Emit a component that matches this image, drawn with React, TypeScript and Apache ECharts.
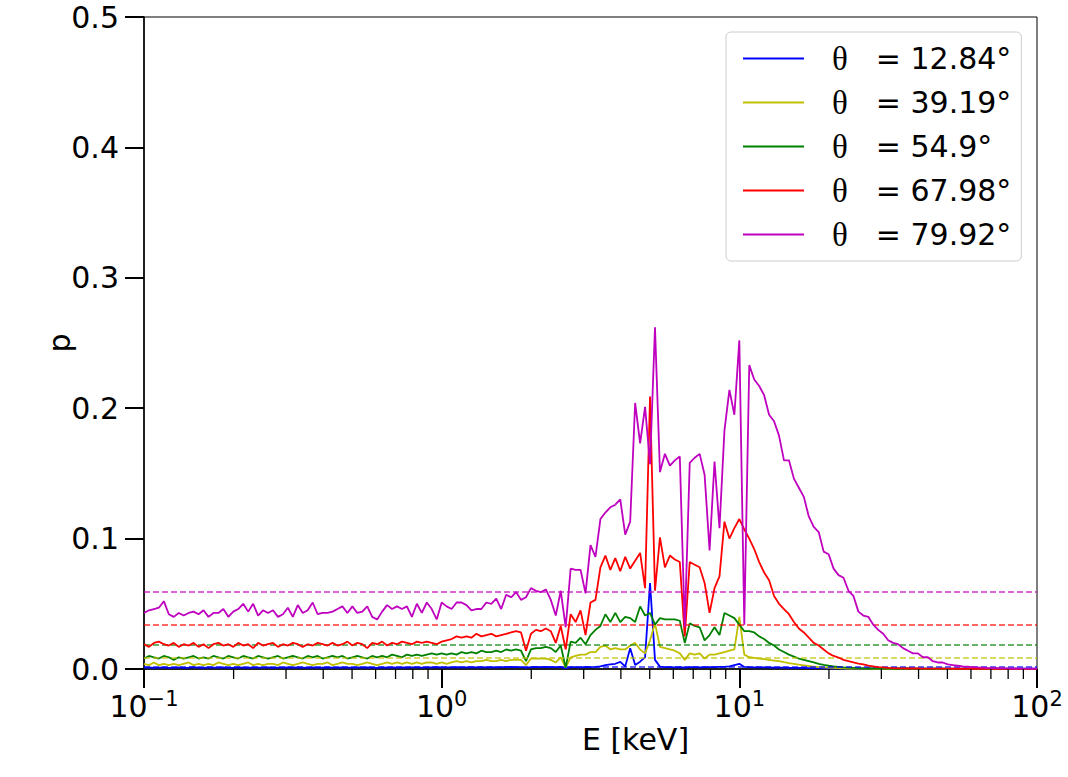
import React, { useEffect, useRef } from 'react';
import * as echarts from 'echarts';

// Energy grid (keV): 181 log-spaced sample energies from 0.1 to 100 keV (60 per decade)
const ENERGY_KEV: number[] = Array.from({ length: 181 }, (_, i) => +(0.1 * Math.pow(10, i / 60)).toPrecision(6));

const SERIES_NAMES = ['12.84', '39.19', '54.9', '67.98', '79.92'];
const SERIES_COLORS = ['#0000ff', '#bfbf00', '#008000', '#ff0000', '#bf00bf'];
// mean polarisation levels (dashed lines)
const MEAN_LEVELS = [0.0015, 0.0084, 0.0186, 0.0337, 0.059];

const X_MINOR_TICKS = [0.2, 0.3, 0.4, 0.5, 0.6, 0.7, 0.8, 0.9, 2, 3, 4, 5, 6, 7, 8, 9, 20, 30, 40, 50, 60, 70, 80, 90];
const Y_TICKS = [0, 0.1, 0.2, 0.3, 0.4, 0.5];

const P_12_84 = [
  0.0010, 0.0012, 0.0008, 0.0011, 0.0013, 0.0009, 0.0010, 0.0012, 0.0009, 0.0011,
  0.0014, 0.0010, 0.0009, 0.0012, 0.0010, 0.0011, 0.0013, 0.0009, 0.0010, 0.0012,
  0.0011, 0.0009, 0.0013, 0.0010, 0.0011, 0.0012, 0.0009, 0.0011, 0.0010, 0.0013,
  0.0010, 0.0012, 0.0011, 0.0009, 0.0012, 0.0010, 0.0011, 0.0013, 0.0010, 0.0011,
  0.0012, 0.0010, 0.0011, 0.0013, 0.0010, 0.0012, 0.0011, 0.0009, 0.0012, 0.0011,
  0.0013, 0.0011, 0.0012, 0.0010, 0.0013, 0.0012, 0.0011, 0.0013, 0.0012, 0.0014,
  0.0012, 0.0013, 0.0012, 0.0014, 0.0013, 0.0012, 0.0014, 0.0013, 0.0015, 0.0013,
  0.0014, 0.0013, 0.0015, 0.0014, 0.0016, 0.0014, 0.0015, 0.0010, 0.0015, 0.0016,
  0.0015, 0.0016, 0.0015, 0.0014, 0.0016, 0.0005, 0.0014, 0.0015, 0.0013, 0.0016,
  0.0015, 0.0017, 0.0020, 0.0030, 0.0035, 0.0040, 0.0055, 0.0020, 0.0160, 0.0030,
  0.0056, 0.0090, 0.0660, 0.0070, 0.0018, 0.0014, 0.0015, 0.0013, 0.0014, 0.0010,
  0.0014, 0.0015, 0.0013, 0.0014, 0.0015, 0.0014, 0.0016, 0.0017, 0.0020, 0.0030,
  0.0040, 0.0016, 0.0014, 0.0013, 0.0013, 0.0012, 0.0012, 0.0011, 0.0010, 0.0010,
  0.0009, 0.0009, 0.0008, 0.0008, 0.0007, 0.0007, 0.0006, 0.0006, 0.0005, 0.0005,
  0.0005, 0.0004, 0.0004, 0.0004, 0.0004, 0.0004, 0.0004, 0.0004, 0.0004, 0.0004,
  0.0004, 0.0004, 0.0004, 0.0004, 0.0004, 0.0003, 0.0003, 0.0003, 0.0003, 0.0003,
  0.0003, 0.0003, 0.0003, 0.0003, 0.0003, 0.0003, 0.0003, 0.0003, 0.0003, 0.0003,
  0.0003, 0.0003, 0.0003, 0.0003, 0.0003, 0.0002, 0.0002, 0.0002, 0.0002, 0.0002, 0.0002,
];

const P_39_19 = [
  0.004, 0.003, 0.005, 0.003, 0.004, 0.003, 0.004, 0.003, 0.004, 0.005,
  0.003, 0.004, 0.003, 0.004, 0.003, 0.005, 0.004, 0.003, 0.004, 0.003,
  0.004, 0.005, 0.003, 0.004, 0.003, 0.004, 0.004, 0.003, 0.005, 0.004,
  0.003, 0.004, 0.005, 0.004, 0.003, 0.004, 0.004, 0.005, 0.003, 0.004,
  0.005, 0.004, 0.004, 0.003, 0.004, 0.005, 0.004, 0.003, 0.004, 0.005,
  0.004, 0.005, 0.004, 0.005, 0.004, 0.005, 0.004, 0.005, 0.005, 0.004,
  0.005, 0.004, 0.005, 0.006, 0.005, 0.006, 0.005, 0.006, 0.006, 0.007,
  0.006, 0.006, 0.007, 0.006, 0.007, 0.007, 0.007, 0.003, 0.008, 0.008,
  0.008, 0.008, 0.007, 0.005, 0.009, 0.001, 0.009, 0.010, 0.011, 0.011,
  0.013, 0.013, 0.017, 0.018, 0.015, 0.016, 0.015, 0.015, 0.018, 0.020,
  0.015, 0.012, 0.022, 0.035, 0.017, 0.016, 0.015, 0.014, 0.012, 0.007,
  0.012, 0.011, 0.012, 0.008, 0.011, 0.011, 0.012, 0.013, 0.014, 0.015,
  0.040, 0.011, 0.009, 0.0085, 0.008, 0.0075, 0.007, 0.0065, 0.006, 0.0052,
  0.0045, 0.004, 0.0033, 0.0028, 0.0023, 0.0019, 0.0015, 0.0012, 0.0010, 0.0008,
  0.0006, 0.0005, 0.0004, 0.0004, 0.0003, 0.0003, 0.0003, 0.0002, 0.0002, 0.0002,
  0.0002, 0.0002, 0.0002, 0.0002, 0.0002, 0.0001, 0.0001, 0.0001, 0.0001, 0.0001,
  0.0001, 0.0001, 0.0001, 0.0001, 0.0001, 0.0001, 0.0001, 0.0001, 0.0001, 0.0001,
  0.0001, 0.0001, 0.0001, 0.0001, 0.0001, 0.0001, 0.0001, 0.0001, 0.0001, 0.0001, 0.0001,
];

const P_54_9 = [
  0.008, 0.010, 0.009, 0.008, 0.010, 0.009, 0.007, 0.009, 0.008, 0.009,
  0.010, 0.008, 0.009, 0.008, 0.010, 0.009, 0.008, 0.010, 0.009, 0.008,
  0.010, 0.009, 0.008, 0.010, 0.009, 0.008, 0.009, 0.010, 0.008, 0.009,
  0.010, 0.009, 0.008, 0.010, 0.009, 0.010, 0.008, 0.009, 0.010, 0.009,
  0.010, 0.008, 0.009, 0.010, 0.009, 0.008, 0.010, 0.009, 0.010, 0.009,
  0.011, 0.010, 0.009, 0.011, 0.010, 0.011, 0.010, 0.011, 0.012, 0.011,
  0.012, 0.011, 0.012, 0.011, 0.013, 0.012, 0.013, 0.012, 0.014, 0.013,
  0.013, 0.014, 0.013, 0.015, 0.014, 0.015, 0.014, 0.006, 0.015, 0.016,
  0.016, 0.017, 0.016, 0.013, 0.018, 0.001, 0.021, 0.020, 0.024, 0.019,
  0.026, 0.030, 0.033, 0.042, 0.036, 0.043, 0.036, 0.040, 0.039, 0.036,
  0.048, 0.041, 0.043, 0.034, 0.039, 0.038, 0.038, 0.038, 0.037, 0.020,
  0.035, 0.033, 0.032, 0.022, 0.026, 0.032, 0.026, 0.043, 0.041, 0.039,
  0.034, 0.029, 0.029, 0.028, 0.025, 0.023, 0.020, 0.018, 0.015, 0.013,
  0.011, 0.0095, 0.008, 0.007, 0.006, 0.005, 0.004, 0.0032, 0.0025, 0.002,
  0.0016, 0.0012, 0.001, 0.0008, 0.0006, 0.0005, 0.0004, 0.0004, 0.0003, 0.0003,
  0.0003, 0.0002, 0.0002, 0.0002, 0.0002, 0.0002, 0.0002, 0.0002, 0.0002, 0.0002,
  0.0002, 0.0002, 0.0001, 0.0001, 0.0001, 0.0001, 0.0001, 0.0001, 0.0001, 0.0001,
  0.0001, 0.0001, 0.0001, 0.0001, 0.0001, 0.0001, 0.0001, 0.0001, 0.0001, 0.0001, 0.0001,
];

const P_67_98 = [
  0.019, 0.017, 0.020, 0.021, 0.019, 0.018, 0.020, 0.017, 0.019, 0.018,
  0.020, 0.017, 0.019, 0.016, 0.019, 0.020, 0.018, 0.019, 0.017, 0.020,
  0.018, 0.019, 0.016, 0.020, 0.018, 0.019, 0.020, 0.017, 0.019, 0.018,
  0.020, 0.019, 0.017, 0.019, 0.018, 0.020, 0.019, 0.018, 0.020, 0.018,
  0.019, 0.021, 0.018, 0.020, 0.019, 0.016, 0.020, 0.019, 0.021, 0.018,
  0.020, 0.019, 0.021, 0.020, 0.019, 0.021, 0.020, 0.021, 0.020, 0.019,
  0.021, 0.022, 0.023, 0.025, 0.024, 0.025, 0.024, 0.027, 0.025, 0.026,
  0.027, 0.025, 0.026, 0.027, 0.028, 0.029, 0.028, 0.014, 0.027, 0.030,
  0.029, 0.031, 0.029, 0.020, 0.033, 0.015, 0.042, 0.036, 0.045, 0.026,
  0.051, 0.053, 0.078, 0.087, 0.076, 0.085, 0.075, 0.086, 0.077, 0.083,
  0.089, 0.062, 0.209, 0.060, 0.101, 0.078, 0.087, 0.084, 0.082, 0.025,
  0.082, 0.080, 0.078, 0.066, 0.043, 0.062, 0.071, 0.113, 0.100, 0.108,
  0.115, 0.107, 0.100, 0.092, 0.082, 0.074, 0.068, 0.056, 0.050, 0.046,
  0.042, 0.036, 0.031, 0.028, 0.024, 0.020, 0.018, 0.015, 0.012, 0.010,
  0.0088, 0.007, 0.006, 0.005, 0.0042, 0.0035, 0.0026, 0.002, 0.0015, 0.0012,
  0.0009, 0.0007, 0.0005, 0.0005, 0.0004, 0.0004, 0.0004, 0.0003, 0.0003, 0.0003,
  0.0003, 0.0003, 0.0003, 0.0002, 0.0002, 0.0002, 0.0002, 0.0002, 0.0002, 0.0002,
  0.0002, 0.0002, 0.0002, 0.0002, 0.0001, 0.0001, 0.0001, 0.0001, 0.0001, 0.0001, 0.0001,
];

const P_79_92 = [
  0.043, 0.045, 0.046, 0.047, 0.052, 0.042, 0.040, 0.043, 0.041, 0.043,
  0.044, 0.042, 0.045, 0.040, 0.043, 0.043, 0.046, 0.040, 0.044, 0.046,
  0.050, 0.044, 0.050, 0.041, 0.045, 0.043, 0.045, 0.040, 0.042, 0.047,
  0.040, 0.049, 0.043, 0.045, 0.051, 0.042, 0.043, 0.043, 0.044, 0.046,
  0.048, 0.043, 0.048, 0.043, 0.044, 0.048, 0.040, 0.038, 0.044, 0.049,
  0.046, 0.048, 0.046, 0.048, 0.040, 0.050, 0.043, 0.051, 0.046, 0.038,
  0.051, 0.048, 0.046, 0.051, 0.051, 0.049, 0.045, 0.046, 0.046, 0.051,
  0.050, 0.054, 0.046, 0.057, 0.055, 0.059, 0.053, 0.055, 0.062, 0.060,
  0.059, 0.061, 0.053, 0.041, 0.060, 0.032, 0.077, 0.076, 0.076, 0.058,
  0.095, 0.086, 0.115, 0.120, 0.124, 0.126, 0.130, 0.103, 0.113, 0.204,
  0.173, 0.201, 0.157, 0.262, 0.151, 0.165, 0.156, 0.160, 0.163, 0.032,
  0.158, 0.162, 0.165, 0.149, 0.091, 0.159, 0.108, 0.183, 0.214, 0.195,
  0.252, 0.034, 0.233, 0.222, 0.217, 0.210, 0.195, 0.190, 0.179, 0.160,
  0.160, 0.146, 0.139, 0.132, 0.117, 0.109, 0.105, 0.090, 0.088, 0.077,
  0.072, 0.070, 0.060, 0.056, 0.044, 0.041, 0.040, 0.034, 0.030, 0.027,
  0.022, 0.020, 0.019, 0.016, 0.014, 0.012, 0.012, 0.009, 0.009, 0.006,
  0.005, 0.005, 0.0035, 0.003, 0.0025, 0.002, 0.0018, 0.0015, 0.0012, 0.001,
  0.0008, 0.0007, 0.0006, 0.0005, 0.0005, 0.0004, 0.0004, 0.0003, 0.0003, 0.0003, 0.0002,
];

const SERIES_VALUES = [P_12_84, P_39_19, P_54_9, P_67_98, P_79_92];

const FONT = 'DejaVu Sans';
const FS = 30;

function expLabel(v: number): string {
  const e = Math.round(Math.log10(v));
  const s = e < 0 ? '\u2212' + Math.abs(e) : String(e);
  return `{b|10}{s|${s}}`;
}

export default function App() {
  const ref = useRef<HTMLDivElement>(null);

  useEffect(() => {
    if (!ref.current) return;
    const chart = echarts.init(ref.current, undefined, { renderer: 'svg' });

    const lineSeries: any[] = SERIES_NAMES.map((name, k) => ({
      name,
      type: 'line',
      data: ENERGY_KEV.map((e, i) => [e, SERIES_VALUES[k][i]]),
      showSymbol: false,
      symbol: 'none',
      color: SERIES_COLORS[k],
      lineStyle: { width: 1.8, color: SERIES_COLORS[k] },
      z: 2 + k,
      markLine: {
        silent: true,
        symbol: 'none',
        precision: 5,
        label: { show: false },
        lineStyle: { type: [6, 3], width: 1.6, color: SERIES_COLORS[k], opacity: 0.8 },
        data: [{ yAxis: MEAN_LEVELS[k] }],
      },
    }));

    const minorTickSeries = {
      type: 'custom',
      silent: true,
      clip: false,
      z: 20,
      data: X_MINOR_TICKS.map((v) => [v, 0]),
      encode: { x: 0, y: 1 },
      renderItem: (_params: any, api: any) => {
        const p = api.coord([api.value(0), 0]);
        return {
          type: 'line',
          shape: { x1: p[0], y1: p[1], x2: p[0], y2: p[1] + 10 },
          style: { stroke: '#000', lineWidth: 1.3 },
        };
      },
    };

    chart.setOption({
      animation: false,
      backgroundColor: '#fff',
      textStyle: { fontFamily: FONT },
      grid: {
        left: 144,
        top: 17,
        width: 893,
        height: 652,
        show: true,
        borderColor: '#000',
        borderWidth: 1,
        backgroundColor: 'transparent',
      },
      legend: {
        data: SERIES_NAMES,
        orient: 'vertical',
        left: 726,
        top: 32,
        padding: [10, 10, 10, 17],
        itemWidth: 61,
        itemHeight: 2,
        itemGap: 11,
        icon: 'rect',
        selectedMode: false,
        backgroundColor: '#fff',
        borderColor: '#cccccc',
        borderWidth: 1,
        borderRadius: 5,
        formatter: (name: string) => `{t|\u03b8}{v|= ${name}\u00b0}`,
        textStyle: {
          color: '#000',
          fontFamily: FONT,
          fontSize: FS,
          rich: {
            t: { fontFamily: 'Liberation Serif', fontSize: 33, lineHeight: 32, padding: [0, 28, 0, 23], color: '#000' },
            v: { fontFamily: FONT, fontSize: FS, lineHeight: 32, color: '#000' },
          },
        },
      },
      xAxis: {
        type: 'log',
        logBase: 10,
        min: 0.1,
        max: 100,
        name: 'E [keV]',
        nameLocation: 'middle',
        nameGap: 55,
        nameMoveOverlap: false,
        nameTextStyle: { fontSize: FS, color: '#000', fontFamily: FONT, padding: [0, 0, 0, 90] },
        axisLine: { show: true, lineStyle: { color: '#000', width: 1.5 } },
        axisTick: { show: true, length: 19, lineStyle: { color: '#000', width: 2 } },
        minorTick: { show: false },
        splitLine: { show: false },
        minorSplitLine: { show: false },
        axisLabel: {
          margin: 19,
          color: '#000',
          formatter: (v: number) => expLabel(v),
          rich: {
            b: { fontSize: FS, fontFamily: FONT, color: '#000', lineHeight: 36 },
            s: { fontSize: 21, fontFamily: FONT, color: '#000', lineHeight: 21, verticalAlign: 'top' },
          },
        },
      },
      yAxis: {
        type: 'value',
        min: Y_TICKS[0],
        max: Y_TICKS[Y_TICKS.length - 1],
        interval: 0.1,
        name: 'p',
        nameLocation: 'middle',
        nameGap: 70,
        nameMoveOverlap: false,
        nameTextStyle: { fontSize: FS, color: '#000', fontFamily: FONT },
        axisLine: { show: true, lineStyle: { color: '#000', width: 1.5 } },
        axisTick: { show: true, length: 19, lineStyle: { color: '#000', width: 2 } },
        splitLine: { show: false },
        axisLabel: {
          margin: 25,
          color: '#000',
          fontSize: FS,
          fontFamily: FONT,
          formatter: (v: number) => v.toFixed(1),
        },
      },
      series: [...lineSeries, minorTickSeries],
    });

    return () => {
      chart.dispose();
    };
  }, []);

  return (
    <div
      ref={ref}
      style={{ position: 'fixed', left: 0, top: 0, width: 1068, height: 777, background: '#fff' }}
    />
  );
}
